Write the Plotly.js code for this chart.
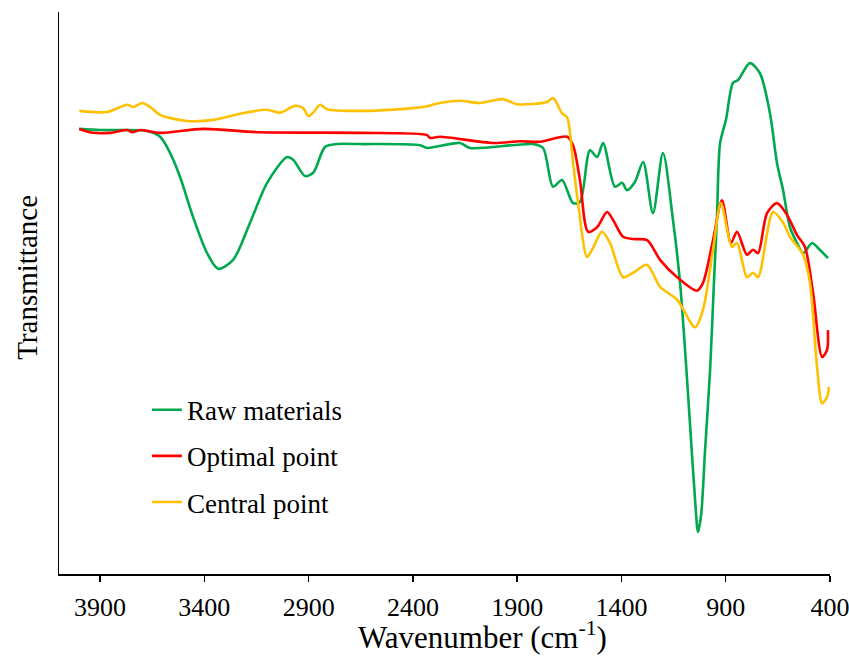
<!DOCTYPE html>
<html>
<head>
<meta charset="utf-8">
<script src="https://cdn.plot.ly/plotly-3.0.1.min.js"></script>
<style>html,body{margin:0;padding:0;background:#fff;}#chart{width:849px;height:657px;}</style>
</head>
<body>
<div id="chart"></div>
<script>
// Wavenumber (cm-1) and transmittance (arbitrary units)
const rawWn = [4000,3900,3800,3670,3612,3564,3516,3454,3387,3334,3262,3181,3099,3003,2974,2917,2878,2821,2763,2653,2366,2332,2174,2126,1824,1776,1728,1685,1632,1599,1551,1517,1488,1431,1397,1373,1335,1296,1249,1201,1153,1119,1095,1071,1047,1033,1018,999,975,956,942,927,899,865,841,784,736,688,654,625,592,558,529,486,462,410];
const rawT  = [79.2,79.0,79.0,78.8,77.8,74.9,70.6,63.5,57.1,54.3,55.9,62.5,69.6,74.2,73.7,70.8,71.4,76.0,76.5,76.5,76.3,75.8,76.7,75.8,76.5,75.8,68.9,70.1,66.0,66.2,75.4,74.2,76.7,68.9,69.6,68.3,69.8,73.3,64.2,74.9,63.0,51.8,39.9,26.5,13.2,7.5,10.5,22.1,36.3,52.3,63.5,76.7,80.8,87.4,87.9,90.9,89.1,82.0,73.1,68.3,61.7,58.9,57.1,58.9,58.2,56.2];

const optWn = [4000,3933,3852,3770,3746,3708,3612,3406,3133,2653,2332,2318,2270,2016,1886,1790,1661,1632,1599,1560,1517,1469,1440,1392,1344,1277,1215,1133,1038,1009,961,918,875,846,798,769,745,702,654,606,558,520,481,438,414,410];
const optT  = [79.2,78.5,78.5,79.0,78.6,79.0,78.5,79.2,78.6,78.5,78.1,77.6,77.8,76.7,77.0,76.9,77.8,76.3,70.1,60.9,61.7,64.4,63.0,60.0,59.6,59.4,55.9,52.8,50.4,51.8,59.4,66.5,58.9,60.9,56.8,57.7,57.1,64.2,66.0,63.9,60.3,58.2,50.0,38.6,39.9,43.4];

const cenWn = [4000,3866,3770,3741,3698,3660,3612,3483,3358,3228,3099,3037,2965,2926,2902,2878,2845,2811,2653,2399,2351,2270,2174,2078,1968,1901,1757,1728,1685,1661,1632,1608,1565,1541,1493,1455,1392,1344,1277,1215,1133,1047,1009,961,923,870,846,798,769,745,673,625,592,529,496,462,438,414,405];
const cenT  = [82.4,82.2,83.5,83.1,83.8,83.1,81.7,80.6,80.8,81.9,82.6,82.1,83.3,82.9,81.5,82.1,83.5,82.7,82.4,82.9,83.1,83.8,84.2,83.8,84.5,83.6,84.0,84.7,82.0,81.3,73.1,66.0,56.4,57.7,60.9,58.9,52.8,53.6,55.0,51.1,48.8,43.9,47.0,57.7,66.0,58.2,58.9,52.8,53.6,52.8,64.4,62.5,60.0,56.8,51.8,36.8,30.4,31.5,33.3];

const seriesNames = ["Raw materials","Optimal point","Central point"];
const seriesColors = ["#00A94F","#FF0000","#FFC000"];
const xTicks = [3900,3400,2900,2400,1900,1400,900,400];
const xTitle = "Wavenumber (cm<sup>-1</sup>)";
const yTitle = "Transmittance";

const serif = "Liberation Serif, Times New Roman, serif";
const data = [[rawWn,rawT],[optWn,optT],[cenWn,cenT]].map((d,i)=>({
  x: d[0], y: d[1], type: "scatter", mode: "lines",
  name: seriesNames[i], legendgroup: "g"+i,
  line: {color: seriesColors[i], width: 2.6, shape: "spline", smoothing: 0.8}
}));

const layout = {
  width: 849, height: 657,
  margin: {l: 59, r: 19, t: 12, b: 83},
  paper_bgcolor: "#fff", plot_bgcolor: "#fff",
  showlegend: true,
  legend: {x: 0.114, y: 0.335, xanchor: "left", yanchor: "top",
    font: {family: serif, size: 27, color: "#000"},
    traceorder: "grouped", tracegroupgap: 8, bgcolor: "rgba(0,0,0,0)"},
  xaxis: {
    range: [4097, 400], tickvals: xTicks, ticktext: xTicks.map(String),
    showline: true, linecolor: "#000", linewidth: 1.5,
    ticks: "outside", ticklen: 6, tickwidth: 1.5, tickcolor: "#000",
    ticklabelstandoff: 3, ticklabeloverflow: "allow",
    showgrid: false, zeroline: false,
    tickfont: {family: serif, size: 26, color: "#000"}
  },
  yaxis: {
    range: [0, 100], showline: true, linecolor: "#000", linewidth: 1.5,
    showticklabels: false, ticks: "", showgrid: false, zeroline: false
  },
  annotations: [
    {text: xTitle, xref: "paper", yref: "paper", x: 0.549, y: -0.1477,
     xanchor: "center", yanchor: "bottom", showarrow: false,
     font: {family: serif, size: 31, color: "#000"}},
    {text: yTitle, xref: "paper", yref: "paper", x: -0.0415, y: 0.527,
     xanchor: "center", yanchor: "middle", showarrow: false, textangle: -90,
     font: {family: serif, size: 29, color: "#000"}}
  ]
};
Plotly.newPlot("chart", data, layout, {displayModeBar: false, staticPlot: true});
</script>
</body>
</html>
